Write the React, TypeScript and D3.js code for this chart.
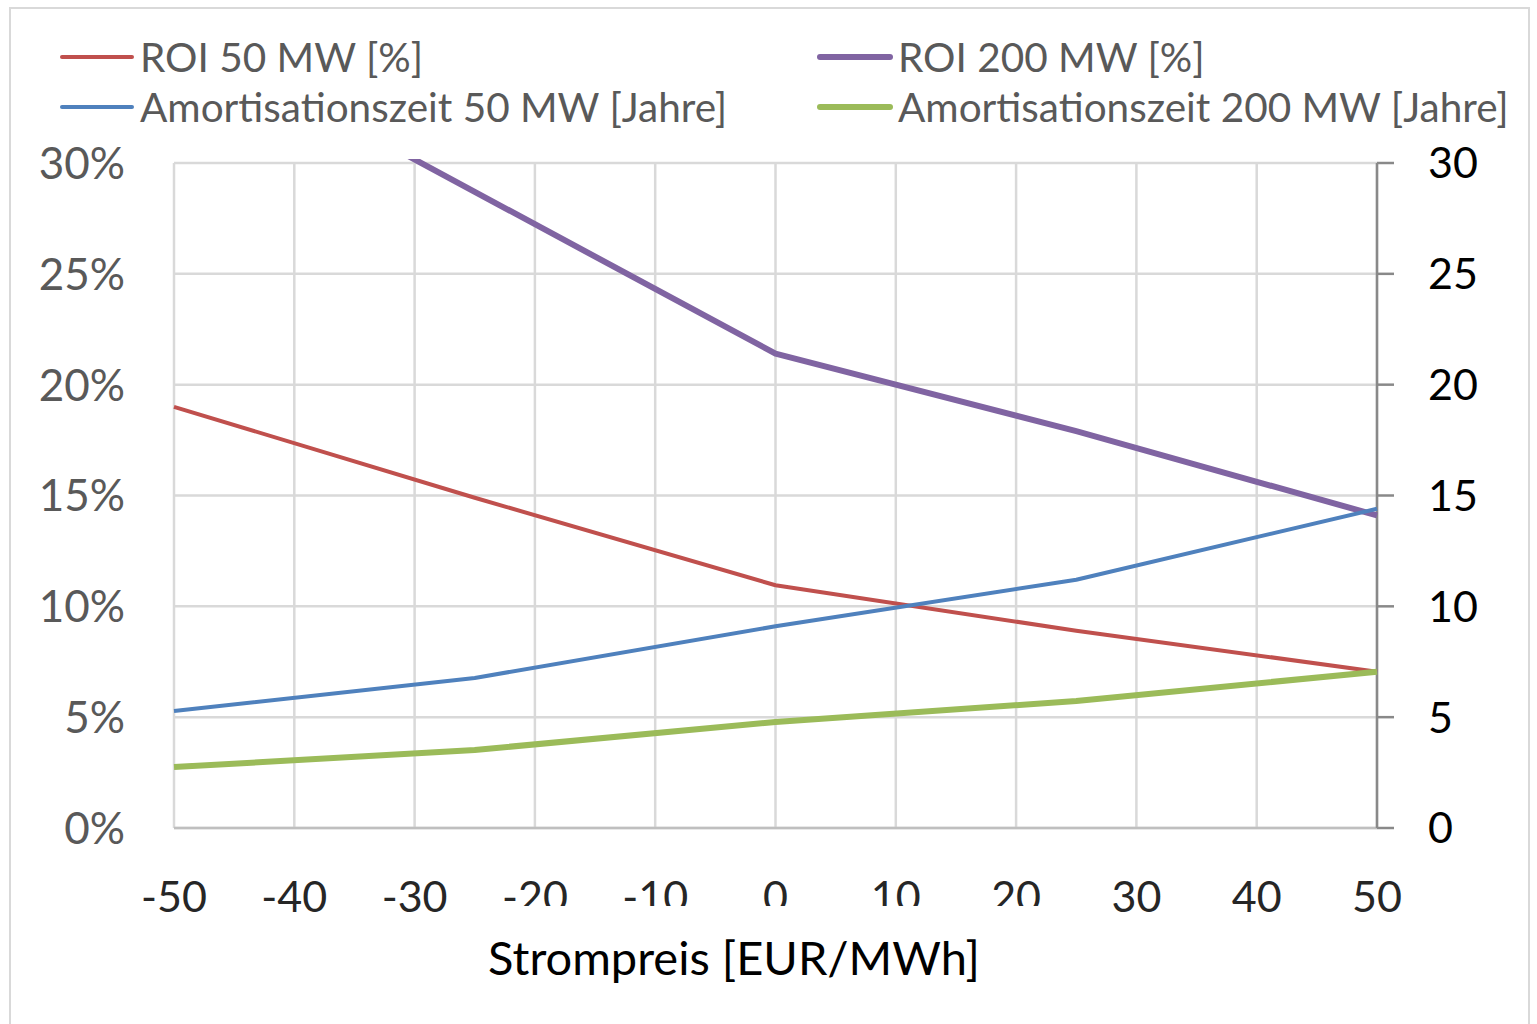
import React, { useEffect, useRef } from 'react';
import * as d3 from 'd3';

// Strompreis [EUR/MWh]
const prices = [-50, -25, 0, 25, 50];
const roi50 = [19.0, 14.9, 10.95, 8.9, 7.05];
const roi200 = [36.0, 28.7, 21.4, 17.9, 14.1];
const amort50 = [5.28, 6.77, 9.1, 11.2, 14.4];
const amort200 = [2.75, 3.52, 4.78, 5.73, 7.05];

const xTicks = [-50, -40, -30, -20, -10, 0, 10, 20, 30, 40, 50];
const yTicks = [0, 5, 10, 15, 20, 25, 30];

const series = [
  { name: 'ROI 50 MW [%]', values: roi50, color: '#C0504D', width: 4, axis: 'left' },
  { name: 'ROI 200 MW [%]', values: roi200, color: '#8064A2', width: 6, axis: 'left' },
  { name: 'Amortisationszeit 50 MW [Jahre]', values: amort50, color: '#4F81BD', width: 4, axis: 'right' },
  { name: 'Amortisationszeit 200 MW [Jahre]', values: amort200, color: '#9BBB59', width: 6, axis: 'right' },
];

const W = 1537;
const H = 1024;
const FONT = 'Lato, "Open Sans", sans-serif';

export default function App() {
  const svgRef = useRef<SVGSVGElement>(null);

  useEffect(() => {
    if (!svgRef.current) return;
    const svg = d3.select(svgRef.current);
    svg.selectAll('*').remove();

    const left = 174, right = 1377, top = 163, bottom = 828;

    const x = d3.scaleLinear().domain([-50, 50]).range([left, right]);
    const yL = d3.scaleLinear().domain([0, 30]).range([bottom, top]);
    const yR = d3.scaleLinear().domain([0, 30]).range([bottom, top]);

    // outer frame
    svg.append('rect')
      .attr('x', 10).attr('y', 8).attr('width', W - 18).attr('height', H)
      .attr('fill', '#fff').attr('stroke', '#d9d9d9').attr('stroke-width', 2);

    // grid
    const grid = svg.append('g').attr('stroke', '#d9d9d9').attr('stroke-width', 2.5);
    grid.selectAll('line.v').data(xTicks).join('line')
      .attr('x1', d => x(d)).attr('x2', d => x(d))
      .attr('y1', top).attr('y2', bottom);
    grid.selectAll('line.h').data(yTicks).join('line')
      .attr('x1', left).attr('x2', right)
      .attr('y1', d => yL(d)).attr('y2', d => yL(d));

    // bottom axis line
    svg.append('line')
      .attr('x1', left).attr('x2', right).attr('y1', bottom).attr('y2', bottom)
      .attr('stroke', '#bfbfbf').attr('stroke-width', 2.5);

    // right axis
    const rAxis = svg.append('g');
    rAxis.append('line')
      .attr('x1', right).attr('x2', right).attr('y1', top).attr('y2', bottom)
      .attr('stroke', '#898989').attr('stroke-width', 2.5);
    rAxis.selectAll('line.t').data(yTicks).join('line')
      .attr('x1', right).attr('x2', right + 17)
      .attr('y1', d => yR(d)).attr('y2', d => yR(d))
      .attr('stroke', '#898989').attr('stroke-width', 2.5);
    rAxis.selectAll('text').data(yTicks).join('text')
      .attr('x', 1428).attr('y', d => yR(d))
      .attr('dy', '0.36em')
      .attr('font-family', FONT).attr('font-size', 43)
      .attr('fill', '#000')
      .text(d => String(d));

    // left axis labels
    svg.append('g').selectAll('text').data(yTicks).join('text')
      .attr('x', 125).attr('y', d => yL(d))
      .attr('dy', '0.36em')
      .attr('text-anchor', 'end')
      .attr('font-family', FONT).attr('font-size', 44)
      .attr('fill', '#595959')
      .text(d => `${d}%`);

    // x labels (some are cut off at the bottom in the original)
    const defs = svg.append('defs');
    defs.append('clipPath').attr('id', 'cutLabels')
      .append('rect').attr('x', 0).attr('y', 0).attr('width', W).attr('height', 906);
    svg.append('g').selectAll('text').data(xTicks).join('text')
      .attr('x', d => x(d)).attr('y', 912)
      .attr('text-anchor', 'middle')
      .attr('font-family', FONT).attr('font-size', 43)
      .attr('fill', '#262626')
      .attr('clip-path', d => (d >= -20 && d <= 20 ? 'url(#cutLabels)' : null))
      .text(d => String(d));

    svg.append('text')
      .attr('x', 734).attr('y', 975)
      .attr('text-anchor', 'middle')
      .attr('font-family', FONT).attr('font-size', 47)
      .attr('fill', '#000')
      .text('Strompreis [EUR/MWh]');

    // plot clip
    defs.append('clipPath').attr('id', 'plot')
      .append('rect').attr('x', left - 10).attr('y', top - 4)
      .attr('width', right - left + 20).attr('height', bottom - top + 8);

    const lines = svg.append('g').attr('clip-path', 'url(#plot)');
    series.forEach(s => {
      const y = s.axis === 'left' ? yL : yR;
      const line = d3.line<number>()
        .x((_, i) => x(prices[i]))
        .y(d => y(d));
      lines.append('path')
        .datum(s.values)
        .attr('fill', 'none')
        .attr('stroke', s.color)
        .attr('stroke-width', s.width)
        .attr('stroke-linejoin', 'round')
        .attr('d', line);
    });

    // legend
    const legendPos = [
      { x: 62, y: 57 }, { x: 820, y: 57 }, { x: 62, y: 107 }, { x: 820, y: 107 },
    ];
    const lg = svg.append('g');
    series.forEach((s, i) => {
      const p = legendPos[i];
      lg.append('line')
        .attr('x1', p.x).attr('x2', p.x + 70).attr('y1', p.y).attr('y2', p.y)
        .attr('stroke', s.color).attr('stroke-width', s.width)
        .attr('stroke-linecap', 'round');
      lg.append('text')
        .attr('x', p.x + 78).attr('y', p.y)
        .attr('dy', '0.36em')
        .attr('font-family', FONT).attr('font-size', 40.5)
        .attr('fill', '#595959')
        .text(s.name);
    });
  }, []);

  return (
    <div style={{ position: 'absolute', left: 0, top: 0, width: W, height: H, background: '#fff' }}>
      <svg ref={svgRef} width={W} height={H} style={{ display: 'block' }} />
    </div>
  );
}
